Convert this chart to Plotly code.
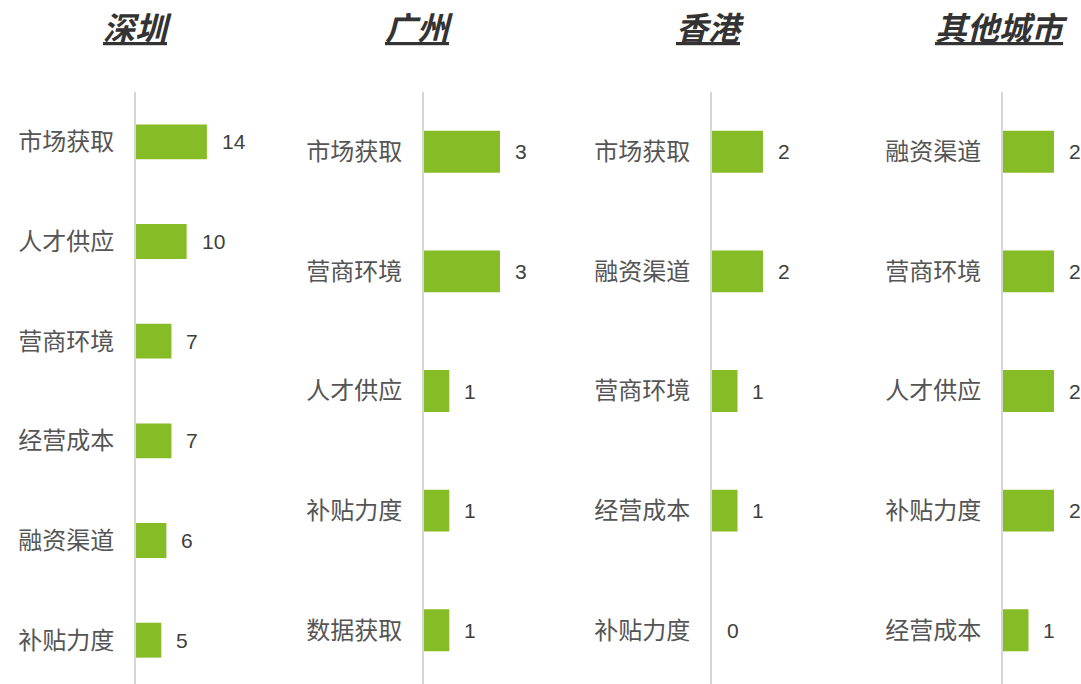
import plotly.graph_objects as go

cities = ["深圳", "广州", "香港", "其他城市"]
sz_cats = ["市场获取", "人才供应", "营商环境", "经营成本", "融资渠道", "补贴力度"]
sz_vals = [14, 10, 7, 7, 6, 5]
gz_cats = ["市场获取", "营商环境", "人才供应", "补贴力度", "数据获取"]
gz_vals = [3, 3, 1, 1, 1]
hk_cats = ["市场获取", "融资渠道", "营商环境", "经营成本", "补贴力度"]
hk_vals = [2, 2, 1, 1, 0]
ot_cats = ["融资渠道", "营商环境", "人才供应", "补贴力度", "经营成本"]
ot_vals = [2, 2, 2, 2, 1]

panels = [(sz_cats, sz_vals, 15.4), (gz_cats, gz_vals, 3.08),
          (hk_cats, hk_vals, 3.06), (ot_cats, ot_vals, 3.06)]

W = 1081
axis_px = [136, 424, 712, 1003]
title_px = [137, 419, 710, 1001]
width_px = 78
FONT = "Noto Sans CJK SC"
GREEN = "#86bc25"

fig = go.Figure()
annotations = []
for i, (cats, vals, xmax) in enumerate(panels):
    n = i + 1
    xa = "x" if n == 1 else f"x{n}"
    ya = "y" if n == 1 else f"y{n}"
    fig.add_trace(go.Bar(
        x=vals, y=cats, orientation="h", marker=dict(color=GREEN, line=dict(width=0)),
        xaxis=xa, yaxis=ya, showlegend=False, hoverinfo="x+y",
    ))
    d0 = axis_px[i] / W
    d1 = min(1.0, (axis_px[i] + width_px) / W)
    fig.layout[f"xaxis{'' if n == 1 else n}"] = dict(
        domain=[d0, d1], range=[0, xmax], visible=False, anchor=ya, fixedrange=True)
    fig.layout[f"yaxis{'' if n == 1 else n}"] = dict(
        domain=[0, 1], anchor=xa, type="category", categoryarray=cats,
        autorange="reversed", showline=True, linecolor="#d6d6d6", linewidth=2,
        showgrid=False, ticks="", ticklabelstandoff=15, automargin=False,
        tickfont=dict(family=FONT, size=24, color="#555555"), fixedrange=True)
    for c, v in zip(cats, vals):
        annotations.append(dict(
            x=v, y=c, xref=xa, yref=ya, text=str(v), showarrow=False,
            xanchor="left", yanchor="middle", xshift=13,
            font=dict(family="Liberation Sans, Arial, sans-serif", size=21, color="#404040")))
    annotations.append(dict(
        x=title_px[i] / W, y=1, xref="paper", yref="paper",
        yshift=41, text=f"<b><i><u>{cities[i]}</u></i></b>", showarrow=False,
        xanchor="center", yanchor="bottom",
        font=dict(family=FONT, size=32, color="#333333")))

fig.update_layout(
    width=1081, height=690,
    margin=dict(l=0, r=0, t=92, b=0, autoexpand=False),
    paper_bgcolor="white", plot_bgcolor="white",
    bargap=0.65,
    annotations=annotations,
)

fig.write_html("out.html", config={"displayModeBar": False},
               post_script="document.body.style.margin='0';document.body.style.overflow='hidden';")
